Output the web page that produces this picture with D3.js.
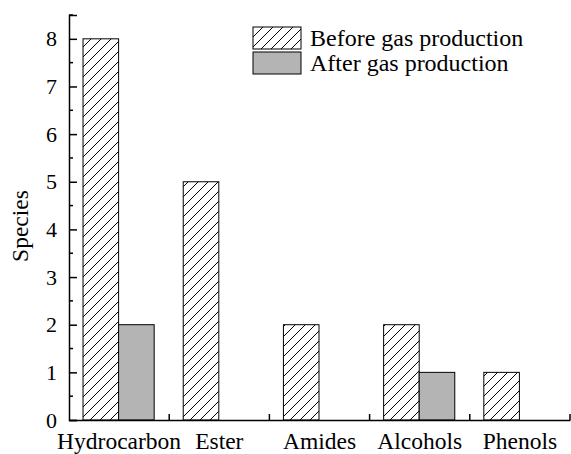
<!DOCTYPE html>
<html>
<head>
<meta charset="utf-8">
<script src="https://cdn.jsdelivr.net/npm/d3@7"></script>
<style>
  body { margin: 0; background: #fff; }
  svg, svg text { font-family: "Liberation Serif", "Times New Roman", serif !important; }
  svg { display: block; }
</style>
</head>
<body>
<div id="chart"></div>
<script>
const categories = ["Hydrocarbon", "Ester", "Amides", "Alcohols", "Phenols"];
const seriesNames = ["Before gas production", "After gas production"];
const before = [8, 5, 2, 2, 1];
const after = [2, 0, 0, 1, 0];
const yTicks = [0, 1, 2, 3, 4, 5, 6, 7, 8];

const width = 571, height = 454;
const margin = {top: 15, right: 1, bottom: 34, left: 69};

const svg = d3.select("#chart").append("svg")
  .attr("width", width)
  .attr("height", height);

// hatch pattern for the "before" bars
const defs = svg.append("defs");
defs.append("pattern")
  .attr("id", "hatch")
  .attr("patternUnits", "userSpaceOnUse")
  .attr("width", 10)
  .attr("height", 10)
  .append("path")
  .attr("d", "M-1,1 L1,-1 M0,10 L10,0 M9,11 L11,9")
  .attr("stroke", "#000")
  .attr("stroke-width", 1);

const x = d3.scaleBand()
  .domain(categories)
  .range([margin.left, width - margin.right])
  .paddingInner(0)
  .paddingOuter(0);

const y = d3.scaleLinear()
  .domain([0, 8.5])
  .range([height - margin.bottom, margin.top]);

const inner = d3.scaleBand()
  .domain(seriesNames)
  .range([0.14 * x.bandwidth(), 0.85 * x.bandwidth()]);

const fills = ["url(#hatch)", "#b4b4b4"];
const values = [before, after];

const g = svg.append("g");
categories.forEach((c, i) => {
  seriesNames.forEach((s, k) => {
    const v = values[k][i];
    if (!v) return;
    g.append("rect")
      .attr("x", x(c) + inner(s))
      .attr("y", y(v))
      .attr("width", inner.bandwidth())
      .attr("height", y(0) - y(v))
      .attr("fill", fills[k])
      .attr("stroke", "#000")
      .attr("stroke-width", 1);
  });
});

// y axis
const yAxis = svg.append("g")
  .attr("transform", `translate(${margin.left},0)`)
  .call(d3.axisLeft(y).tickValues(yTicks).tickSize(-8).tickPadding(12).tickFormat(d3.format("d")));
yAxis.select(".domain").attr("stroke-width", 1.5);
yAxis.selectAll(".tick line").attr("stroke-width", 1.5);
yAxis.selectAll("text").attr("font-size", 22).attr("fill", "#000");

const minor = d3.range(0.5, 8.6, 1);
svg.append("g").selectAll("line")
  .data(minor).enter().append("line")
  .attr("x1", margin.left).attr("x2", margin.left + 4)
  .attr("y1", d => y(d)).attr("y2", d => y(d))
  .attr("stroke", "#000").attr("stroke-width", 1.5);

// x axis
const xAxis = svg.append("g")
  .attr("transform", `translate(0,${y(0)})`)
  .call(d3.axisBottom(x).tickSize(0).tickPadding(12));
xAxis.select(".domain").attr("stroke-width", 1.5);
xAxis.selectAll("text").attr("font-size", 23.5).attr("fill", "#000");

svg.append("g").selectAll("line")
  .data(categories).enter().append("line")
  .attr("x1", d => x(d) + x.bandwidth()).attr("x2", d => x(d) + x.bandwidth())
  .attr("y1", y(0)).attr("y2", y(0) - 6)
  .attr("stroke", "#000").attr("stroke-width", 1.5);

// y label
svg.append("text")
  .attr("transform", "translate(28,226) rotate(-90)")
  .attr("text-anchor", "middle")
  .attr("font-size", 23.5)
  .text("Species");

// legend
const legend = svg.append("g").attr("transform", "translate(253,27)");
seriesNames.forEach((s, k) => {
  const row = legend.append("g").attr("transform", `translate(0,${k * 25})`);
  row.append("rect")
    .attr("width", 48).attr("height", 22)
    .attr("fill", fills[k]).attr("stroke", "#000").attr("stroke-width", 1);
  row.append("text")
    .attr("x", 57).attr("y", 19)
    .attr("font-size", 24)
    .text(s);
});
</script>
</body>
</html>
